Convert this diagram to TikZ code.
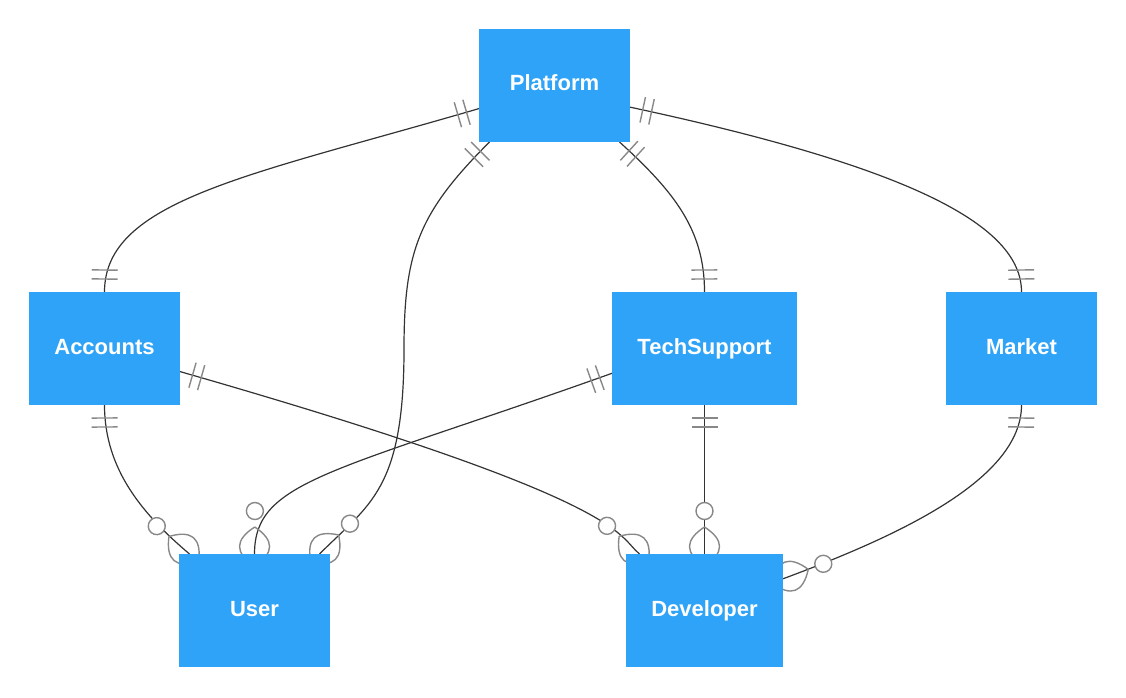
\documentclass[tikz,border=0pt]{standalone}
\usepackage{fontspec}
\setmainfont{Liberation Sans}
\usepackage{tikz}
\usetikzlibrary{decorations.markings}
\usetikzlibrary{backgrounds}

\definecolor{boxblue}{RGB}{47,163,247}
\definecolor{linegray}{RGB}{51,51,51}
\definecolor{markgray}{RGB}{136,136,136}

\tikzset{
    entity/.style={rectangle, fill=boxblue, text=white, font=\fontsize{22}{26}\selectfont\bfseries, minimum height=113pt, text height=11pt, text depth=0pt, inner sep=0pt, outer sep=0pt},
    rel/.style={draw=linegray, line width=1.2pt},
    marker/.style={draw=markgray, line width=1.4pt},
    onestart/.style={postaction={decorate, decoration={markings, mark=at position 1pt with {\draw[marker] (12pt,-13pt) -- (12pt,13pt) (21pt,-13pt) -- (21pt,13pt);}}}},
    oneend/.style={postaction={decorate, decoration={markings, mark=at position -1pt with {\draw[marker] (-12pt,-13pt) -- (-12pt,13pt) (-21pt,-13pt) -- (-21pt,13pt);}}}},
    manyend/.style={postaction={decorate, decoration={markings, mark=at position -1pt with {\draw[marker] (-26pt,0pt) .. controls (-13pt,20pt) and (0pt,20pt) .. (13pt,0pt) .. controls (0pt,-20pt) and (-13pt,-20pt) .. (-26pt,0pt); \draw[marker, fill=white] (-42pt,0pt) circle (8.5pt);}}}}
}

\begin{document}
\begin{tikzpicture}[x=1pt, y=1pt]
            \useasboundingbox (0,0) rectangle (1126,697);

            % Nodes
            \node[entity, minimum width=151pt] (Platform) at (554.5, 611.5) {Platform};
            \node[entity, minimum width=151pt] (Accounts) at (104.5, 348.5) {Accounts};
            \node[entity, minimum width=185pt] (TechSupport) at (704.5, 348.5) {TechSupport};
            \node[entity, minimum width=151pt] (Market) at (1021.5, 348.5) {Market};
            \node[entity, minimum width=151pt] (User) at (254.5, 86.5) {User};
            \node[entity, minimum width=157pt] (Developer) at (704.5, 86.5) {Developer};
            \coordinate (userbend) at (404, 348);

            % Lines
            \begin{pgfonlayer}{background}
            \draw[rel, onestart, oneend] (Platform.197) .. controls +(-229,-67) and +(0,92) .. (Accounts.north);
            \draw[rel, onestart, manyend] (Platform.221) .. controls +(-70,-70) and +(0,99) .. (userbend) .. controls +(0,-141) and +(50,50) .. (User.41);
            \draw[rel, onestart, oneend] (Platform.319) .. controls +(55,-50) and +(0,62) .. (TechSupport.north);
            \draw[rel, onestart, oneend] (Platform.344) .. controls +(280,-60) and +(0,67) .. (Market.north);
            \draw[rel, onestart, manyend] (Accounts.south) .. controls +(0,-65) and +(-46,39) .. (User.139);
            \draw[rel, onestart, manyend] (Accounts.343) .. controls +(450,-129) and +(-23,19) .. (Developer.139);
            \draw[rel, onestart, manyend] (TechSupport.195) .. controls +(-280,-100) and +(0,74) .. (User.north);
            \draw[rel, onestart, manyend] (TechSupport.south) -- (Developer.north);
            \draw[rel, onestart, manyend] (Market.south) .. controls +(0,-75) and +(113,42) .. (Developer.22);
            \end{pgfonlayer}
        \end{tikzpicture}
\end{document}
